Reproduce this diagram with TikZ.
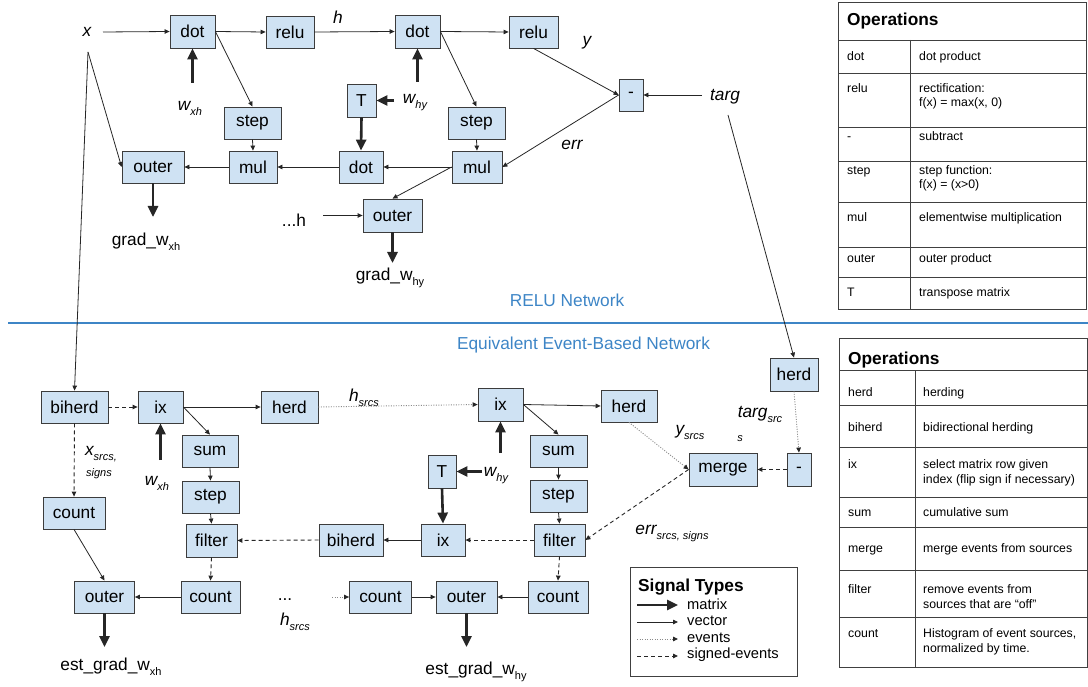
\documentclass[tikz,border=0pt]{standalone}
\usepackage{fontspec}
\setmainfont{Liberation Sans}
\usepackage{tikz}
\usetikzlibrary{arrows.meta}
\definecolor{opFill}{HTML}{CFE2F3}
\definecolor{opLine}{HTML}{3C3C3C}
\definecolor{sigInk}{HTML}{262626}
\definecolor{evGray}{HTML}{8A8A8A}
\definecolor{netBlue}{HTML}{3D85C6}
\definecolor{tblLine}{HTML}{404040}
\newcommand{\boxfont}{\fontsize{17.3}{20}\selectfont}
\newcommand{\tblfont}{\fontsize{12.3}{14.8}\selectfont}
\newcommand{\legfont}{\fontsize{14.7}{17}\selectfont}
\newcommand{\lsub}[1]{\raisebox{-0.55ex}{\fontsize{11}{12}\selectfont #1}}
\tikzset{
    op/.style={draw=opLine, line width=0.8pt, fill=opFill, inner sep=0pt, minimum height=32pt, font=\boxfont},
    lbl/.style={inner sep=0pt, font=\boxfont},
    ital/.style={inner sep=0pt, font=\boxfont\itshape},
    small/.style={inner sep=0pt, font=\fontsize{11}{12}\selectfont\itshape},
    netlbl/.style={inner sep=0pt, font=\boxfont, text=netBlue},
    tbl/.style={inner sep=0pt, anchor=base west, font=\tblfont},
    tblrule/.style={draw=tblLine, line width=0.8pt},
    matarrow/.style={-{Triangle[length=11pt,width=10pt]}, line width=2.6pt, draw=sigInk},
    vecarrow/.style={-{Triangle[length=5pt,width=4.5pt]}, line width=0.8pt, draw=sigInk},
    evarrow/.style={-{Triangle[length=5pt,width=4.5pt,color=sigInk]}, line width=0.9pt, dash pattern=on 1pt off 1.5pt, draw=evGray},
    sevarrow/.style={-{Triangle[length=5pt,width=4.5pt]}, line width=0.9pt, dash pattern=on 4pt off 3pt, draw=sigInk}
}
\begin{document}
\begin{tikzpicture}[x=1pt, y=-1pt]
\useasboundingbox (0,0) rectangle (1088,687);
% RELU network
\node[ital] (xin) at (87,32) {x};
\node[op, minimum width=45pt, minimum height=33pt] (dotA) at (192.5,31.5) {dot};
\node[op, minimum width=48pt] (reluA) at (290,32) {relu};
\node[op, minimum width=45pt, minimum height=33pt] (dotB) at (417.5,31.5) {dot};
\node[op, minimum width=49pt] (reluB) at (533.5,32) {relu};
\node[op, minimum width=24pt] (subA) at (631,95) {-};
\node[op, minimum width=29pt, minimum height=33pt] (TA) at (361.5,100.5) {T};
\node[op, minimum width=57pt] (stepA) at (252.5,123) {step};
\node[op, minimum width=57pt] (stepB) at (476.5,123) {step};
\node[op, minimum width=48pt] (mulA) at (253,167) {mul};
\node[op, minimum width=50pt] (mulB) at (477,167) {mul};
\node[op, minimum width=44pt] (dotC) at (361,167) {dot};
\node[op, minimum width=62pt] (outerA) at (153,167) {outer};
\node[op, minimum width=59pt, minimum height=33pt] (outerB) at (392.5,215.5) {outer};
\node[ital] (hlbl) at (338,17) {h};
\node[ital] (ylbl) at (587,43) {y};
\node[ital] (targ) at (725,97) {targ};
\node[ital] (errlbl) at (572,145) {err};
\node[ital] (wxhA) at (190,108) {w\lsub{xh}};
\node[ital] (whyA) at (415,103) {w\lsub{hy}};
\node[lbl] (gradxh) at (146,242) {grad\_w\lsub{xh}};
\node[lbl] (gradhy) at (390,278) {grad\_w\lsub{hy}};
\node[lbl] (hdotsA) at (294,220) {...h};
\coordinate (xTailR) at (103,32); \coordinate (xTailD) at (88,52);
\coordinate (wxhTail) at (192.5,83); \coordinate (whyTail) at (417.5,82); \coordinate (whyTailT) at (394,100.5);
\coordinate (targTail) at (702,95); \coordinate (targTailD) at (728,115);
\coordinate (hdotsTail) at (323,215.5);
\coordinate (gxhEnd) at (153,217); \coordinate (ghyEnd) at (392.5,263);
\draw[vecarrow] (xTailR) -- (dotA.west); \draw[vecarrow] (dotA.east) -- (reluA.west);
\draw[vecarrow] (reluA.east) -- (dotB.west); \draw[vecarrow] (dotB.east) -- (reluB.west);
\draw[vecarrow] (dotA.east) -- (stepA.north); \draw[vecarrow] (dotB.east) -- (stepB.north);
\draw[vecarrow] (stepA.south) -- (mulA.north); \draw[vecarrow] (stepB.south) -- (mulB.north);
\draw[vecarrow] (mulB.west) -- (dotC.east); \draw[vecarrow] (dotC.west) -- (mulA.east); \draw[vecarrow] (mulA.west) -- (outerA.east);
\draw[vecarrow] (reluB.south) -- (subA.west); \draw[vecarrow] (targTail) -- (subA.east);
\draw[vecarrow] (subA.west) -- (mulB.east); \draw[vecarrow] (mulB.west) -- (outerB.north);
\draw[vecarrow] (hdotsTail) -- (outerB.west);
\draw[vecarrow] (xTailD) -- (outerA.west);
\draw[matarrow] (wxhTail) -- (dotA.south); \draw[matarrow] (whyTail) -- (dotB.south);
\draw[matarrow] (whyTailT) -- (TA.east); \draw[matarrow] (TA.south) -- (dotC.north);
\draw[matarrow] (outerA.south) -- (gxhEnd); \draw[matarrow] (outerB.south) -- (ghyEnd);
% divider
\node[netlbl] (reluNet) at (567,300) {RELU Network};
\node[netlbl] (eventNet) at (583.5,345) {Equivalent Event-Based Network};
\coordinate (divL) at (8,323); \coordinate (divR) at (1088,323);
\draw[netBlue, line width=2.5pt] (divL) -- (divR);
% event-based network
\node[op, minimum width=67pt] (biherdA) at (74.5,407) {biherd};
\node[op, minimum width=45pt] (ixA) at (160.5,407) {ix};
\node[op, minimum width=57pt] (herdA) at (289.5,407) {herd};
\node[op, minimum width=56pt] (sumA) at (210,451) {sum};
\node[op, minimum width=57pt] (stepC) at (210.5,497) {step};
\node[op, minimum width=62pt] (countA) at (74,513) {count};
\node[op, minimum width=51pt, minimum height=33pt] (filterA) at (211.5,540.5) {filter};
\node[op, minimum width=64pt] (biherdB) at (351,540) {biherd};
\node[op, minimum width=44pt] (ixC) at (443,540) {ix};
\node[op, minimum width=51pt] (filterB) at (559.5,540) {filter};
\node[op, minimum width=45pt, minimum height=33pt] (ixB) at (500.5,404.5) {ix};
\node[op, minimum width=56pt] (herdB) at (629,406) {herd};
\node[op, minimum width=57pt] (sumB) at (558.5,451) {sum};
\node[op, minimum width=57pt] (stepD) at (558.5,496) {step};
\node[op, minimum width=28pt, minimum height=33pt] (TB) at (442,471.5) {T};
\node[op, minimum width=68pt, minimum height=33pt] (merge) at (723,469.5) {merge};
\node[op, minimum width=24pt, minimum height=33pt] (subB) at (799,469.5) {-};
\node[op, minimum width=48pt, minimum height=33pt] (herdC) at (794,374.5) {herd};
\node[op, minimum width=60pt] (outerC) at (104.5,597) {outer};
\node[op, minimum width=59pt] (countB) at (210.5,597) {count};
\node[op, minimum width=62pt] (countC) at (380.5,597) {count};
\node[op, minimum width=61pt] (outerD) at (466.5,597) {outer};
\node[op, minimum width=60pt] (countD) at (558,597) {count};
\node[ital] (hsrcsA) at (364,398) {h\lsub{srcs}};
\node[ital] (wxhB) at (157,483) {w\lsub{xh}};
\node[ital] (xsrcs) at (101,454) {x\lsub{srcs,}};
\node[small] (xsigns) at (99,474) {signs};
\node[ital] (whyB) at (496,476) {w\lsub{hy}};
\node[ital] (ysrcs) at (690,432) {y\lsub{srcs}};
\node[ital] (targS) at (760,414) {targ\lsub{src}};
\node[small] (targSs) at (740,439) {s};
\node[ital] (errS) at (672,533) {err\lsub{srcs, signs}};
\node[lbl] (dotsB) at (285,600) {...};
\node[ital] (hsrcsB) at (295,622) {h\lsub{srcs}};
\node[lbl] (estxh) at (111,667) {est\_grad\_w\lsub{xh}};
\node[lbl] (esthy) at (476,672) {est\_grad\_w\lsub{hy}};
\coordinate (wxhBTail) at (160.5,460); \coordinate (whyBTail) at (500.5,453); \coordinate (whyBTailT) at (482,471.5);
\coordinate (hdotsBTail) at (332,597);
\coordinate (exhEnd) at (104.5,647); \coordinate (ehyEnd) at (466.5,647);
\draw[vecarrow] (xTailD) -- (biherdA.north);
\draw[vecarrow] (targTailD) -- (herdC.north);
\draw[sevarrow] (biherdA.east) -- (ixA.west); \draw[sevarrow] (biherdA.south) -- (countA.north);
\draw[vecarrow] (ixA.east) -- (herdA.west); \draw[vecarrow] (ixA.east) -- (sumA.north);
\draw[vecarrow] (sumA.south) -- (stepC.north); \draw[vecarrow] (stepC.south) -- (filterA.north);
\draw[matarrow] (wxhBTail) -- (ixA.south);
\draw[evarrow] (herdA.east) -- (ixB.west);
\draw[vecarrow] (ixB.east) -- (herdB.west); \draw[vecarrow] (ixB.east) -- (sumB.north);
\draw[vecarrow] (sumB.south) -- (stepD.north); \draw[vecarrow] (stepD.south) -- (filterB.north);
\draw[matarrow] (whyBTail) -- (ixB.south); \draw[matarrow] (whyBTailT) -- (TB.east); \draw[matarrow] (TB.south) -- (ixC.north);
\draw[sevarrow] (filterB.west) -- (ixC.east); \draw[vecarrow] (ixC.west) -- (biherdB.east); \draw[sevarrow] (biherdB.west) -- (filterA.east);
\draw[sevarrow] (filterA.south) -- (countB.north); \draw[vecarrow] (countB.west) -- (outerC.east); \draw[vecarrow] (countA.south) -- (outerC.north);
\draw[sevarrow] (filterB.south) -- (countD.north); \draw[vecarrow] (countD.west) -- (outerD.east); \draw[vecarrow] (countC.east) -- (outerD.west);
\draw[evarrow] (hdotsBTail) -- (countC.west);
\draw[matarrow] (outerC.south) -- (exhEnd); \draw[matarrow] (outerD.south) -- (ehyEnd);
\draw[evarrow] (herdB.south) -- (merge.west); \draw[sevarrow] (merge.west) -- (filterB.east);
\draw[sevarrow] (subB.west) -- (merge.east); \draw[evarrow] (herdC.south) -- (subB.north);
% operations tables
\draw[tblrule] (838,2) rectangle (1086,309);
\foreach \yy in {40,73,127,161,202,247,277} {\draw[tblrule] (838,\yy) -- (1086,\yy);}
\draw[tblrule] (910,40) -- (910,309);
\node[tbl, font=\boxfont\bfseries] (opsTop) at (847,26) {Operations};
\foreach \yy/\ka/\kb in {61/dot/dot product, 93/relu/rectification:, 141/-/subtract, 175/step/step function:, 222/mul/elementwise multiplication, 263/outer/outer product, 297/T/transpose matrix}
  {\node[tbl] (opA\yy) at (847,\yy) {\ka}; \node[tbl] (descA\yy) at (919,\yy) {\kb};}
\foreach \yy/\kb in {107/{f(x) = max(x, 0)}, 189/{f(x) = (x>0)}}
  {\node[tbl] (descA\yy) at (919,\yy) {\kb};}
\draw[tblrule] (839,338) rectangle (1087,667);
\foreach \yy in {370,405,447,497,527,570,617} {\draw[tblrule] (839,\yy) -- (1087,\yy);}
\draw[tblrule] (915,370) -- (915,667);
\node[tbl, font=\boxfont\bfseries] (opsBot) at (848,364) {Operations};
\foreach \yy/\ka/\kb in {396/herd/herding, 431/biherd/bidirectional herding, 468/ix/select matrix row given, 516/sum/cumulative sum, 552/merge/merge events from sources, 593/filter/remove events from, 637/count/{Histogram of event sources,}}
  {\node[tbl] (opB\yy) at (848,\yy) {\ka}; \node[tbl] (descB\yy) at (923,\yy) {\kb};}
\foreach \yy/\kb in {483/{index (flip sign if necessary)}, 608/{sources that are “off”}, 652/{normalized by time.}}
  {\node[tbl] (descB\yy) at (923,\yy) {\kb};}
% signal types
\draw[tblrule] (630,567) rectangle (797,676);
\node[inner sep=0pt, anchor=west, font=\boxfont\bfseries] (sigTitle) at (638,587) {Signal Types};
\foreach \i/\yy/\sty/\txt in {1/605/matarrow/matrix, 2/622/vecarrow/vector, 3/639/evarrow/events, 4/656/sevarrow/signed-events}
  {\coordinate (lgs\i) at (637,\yy); \coordinate (lge\i) at (678,\yy);
   \node[inner sep=0pt, anchor=west, font=\legfont] (lgt\i) at (687,\yy-1) {\txt};
   \draw[\sty] (lgs\i) -- (lge\i);}
\end{tikzpicture}
\end{document}
